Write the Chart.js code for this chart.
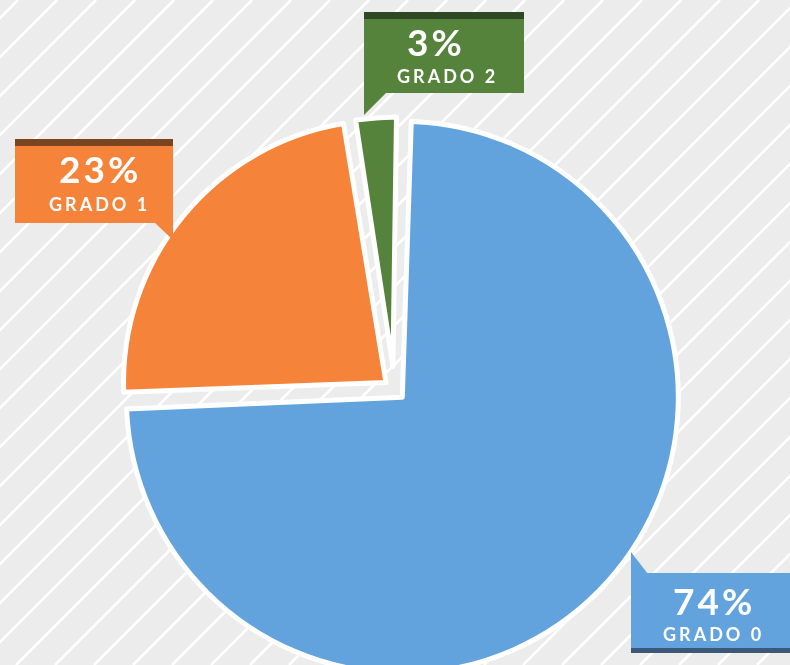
<!DOCTYPE html>
<html>
<head>
<meta charset="utf-8">
<title>Grados</title>
<script src="https://cdn.jsdelivr.net/npm/chart.js@4.4.0/dist/chart.umd.min.js"></script>
<style>
  html, body { margin: 0; padding: 0; background: #ececec; }
  #grados { display: block; }
</style>
</head>
<body>
<canvas id="grados" width="790" height="665"></canvas>
<script>
var grados = ['GRADO 0', 'GRADO 1', 'GRADO 2'];
var porcentajes = [74, 23, 3];

var colores = ['#62a3de', '#f6833a', '#55833b'];
var coloresOscuros = ['#3b5977', '#7b4421', '#2f4823'];
var separacion = [44, 44, 92];
var escalaRadio = [1, 0.99, 0.87];

// cajas de las etiquetas (cuerpo de color, barra oscura, cola, texto)
var cajas = [
	{x1: 631, x2: 795, y1: 573, y2: 648, barra: 'abajo', cola: [[631, 574], [648, 574], [631, 552]], tx: 663, b1: 615, b2: 641},
	{x1: 15, x2: 173, y1: 146, y2: 223, barra: 'arriba', cola: [[154, 222], [173, 222], [173, 240]], tx: 49, b1: 183, b2: 211},
	{x1: 364, x2: 524, y1: 19, y2: 93, barra: 'arriba', cola: [[364, 92], [387, 92], [364, 115]], tx: 397, b1: 56, b2: 83}
];

var fondoRayas = {
	id: 'fondoRayas',
	beforeDraw: function(chart) {
		var ctx = chart.ctx;
		ctx.save();
		ctx.fillStyle = '#ececec';
		ctx.fillRect(0, 0, chart.width, chart.height);
		ctx.strokeStyle = '#ffffff';
		ctx.lineWidth = 2.6;
		for (var k = 18 - 39 * 2; k < chart.width + chart.height + 39; k += 39) {
			ctx.beginPath();
			ctx.moveTo(k, 0);
			ctx.lineTo(k - chart.height, chart.height);
			ctx.stroke();
		}
		ctx.restore();
	}
};

// cada trozo tiene su propio radio en el original
var radioPorTrozo = {
	id: 'radioPorTrozo',
	afterDatasetUpdate: function(chart, args) {
		var meta = chart.getDatasetMeta(args.index);
		meta.data.forEach(function(arco, i) {
			arco.outerRadius = meta.controller.outerRadius * escalaRadio[i];
		});
	}
};

var etiquetas = {
	id: 'etiquetas',
	afterDraw: function(chart) {
		var ctx = chart.ctx;
		var datos = chart.data.datasets[0].data;
		cajas.forEach(function(c, i) {
			ctx.save();
			ctx.fillStyle = colores[i];
			ctx.fillRect(c.x1, c.y1, c.x2 - c.x1, c.y2 - c.y1);
			ctx.beginPath();
			ctx.moveTo(c.cola[0][0], c.cola[0][1]);
			ctx.lineTo(c.cola[1][0], c.cola[1][1]);
			ctx.lineTo(c.cola[2][0], c.cola[2][1]);
			ctx.closePath();
			ctx.fill();
			ctx.fillStyle = coloresOscuros[i];
			if (c.barra == 'arriba') {
				ctx.fillRect(c.x1, c.y1 - 7, c.x2 - c.x1, 7);
			} else {
				ctx.fillRect(c.x1, c.y2, c.x2 - c.x1, 5);
			}
			ctx.fillStyle = '#ffffff';
			ctx.textAlign = 'left';
			ctx.textBaseline = 'alphabetic';
			ctx.font = 'bold 37px Lato';
			ctx.letterSpacing = '3px';
			ctx.fillText(datos[i] + '%', c.tx + 10, c.b1);
			ctx.font = 'bold 18px Lato';
			ctx.letterSpacing = '3px';
			ctx.fillText(chart.data.labels[i], c.tx, c.b2);
			ctx.restore();
		});
	}
};

var pieGrados = new Chart(document.getElementById('grados'), {
	type: 'pie',
	data: {
		labels: grados,
		datasets: [
			{
				data: porcentajes,
				backgroundColor: colores,
				borderColor: '#ffffff',
				borderWidth: 5,
				borderJoinStyle: 'round',
				offset: separacion
			}
		]
	},
	options: {
		responsive: false,
		animation: false,
		rotation: 1.5,
		radius: 265,
		layout: { padding: { top: 114, right: 1, left: 0, bottom: 0 } },
		plugins: {
			legend: { display: false },
			tooltip: { enabled: false }
		},
		events: []
	},
	plugins: [fondoRayas, radioPorTrozo, etiquetas]
});
</script>
</body>
</html>
